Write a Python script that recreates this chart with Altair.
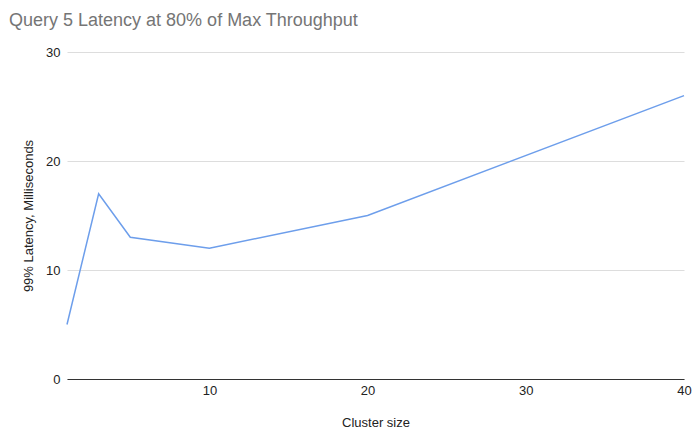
import altair as alt
import pandas as pd

cluster_size = [1, 3, 5, 10, 20, 40]
latency = [5, 17, 13, 12, 15, 26]
x_ticks = [10, 20, 30, 40]
y_ticks = [0, 10, 20, 30]

df = pd.DataFrame({"cluster": cluster_size, "latency": latency})

font = "Liberation Sans"

line = alt.Chart(df).mark_line(color="#6d9eeb", strokeWidth=1.5).encode(
    x=alt.X("cluster:Q", title="Cluster size",
            scale=alt.Scale(domain=[1, 40], nice=False, zero=False),
            axis=alt.Axis(values=x_ticks, grid=False, ticks=False, domain=True,
                          domainColor="#333333", domainWidth=1,
                          labelFont=font, labelFontSize=13, labelColor="#222222",
                          labelPadding=5, titleFont=font, titleFontSize=13,
                          titleFontWeight="normal", titleColor="#222222",
                          titlePadding=19, labelFlush=False)),
    y=alt.Y("latency:Q", title="99% Latency, Milliseconds",
            scale=alt.Scale(domain=[0, 30], nice=False),
            axis=alt.Axis(values=y_ticks, grid=True, gridColor="#dddddd",
                          ticks=False, domain=False,
                          labelFont=font, labelFontSize=13, labelColor="#222222",
                          labelPadding=7, titleFont=font, titleFontSize=13,
                          titleFontWeight="normal", titleColor="#222222",
                          titlePadding=10)),
)

chart = line.properties(
    width=617, height=327,
    autosize=alt.AutoSizeParams(type="none"),
    padding={"left": 59, "top": 44, "right": 8, "bottom": 50},
    title=alt.TitleParams("Query 5 Latency at 80% of Max Throughput",
                          anchor="start", frame="group", dx=-58, offset=16,
                          font=font, fontSize=18, fontWeight="normal",
                          color="#757575"),
).configure_view(stroke=None)

chart.save("out.html", embed_options={"renderer": "svg", "actions": False})
